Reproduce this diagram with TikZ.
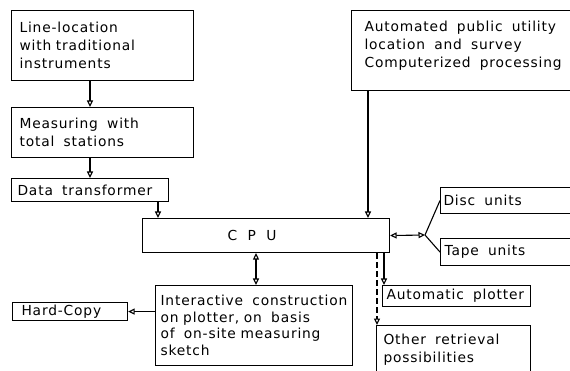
\documentclass[tikz,border=0pt]{standalone}
\usepackage{fontspec}
\setmainfont{DejaVu Sans}[LetterSpace=6]
\usetikzlibrary{arrows.meta}
\tikzset{
  box/.style={draw, line width=1.1pt, inner ysep=1pt, align=left, anchor=north west},
  tip/.tip={Triangle[open,length=6.5pt,width=6pt,line width=1.1pt]},
  arr/.style={-tip, line width=1.1pt},
  darr/.style={tip-tip, line width=1.1pt},
  link/.style={line width=1.1pt},
}
\begin{document}
\begin{tikzpicture}[x=1pt,y=-1pt,font=\fontsize{13.8}{18}\selectfont]
\useasboundingbox (0,0) rectangle (570,371);
\clip (0,0) rectangle (570,371);
% boxes
\node[box, inner xsep=8pt, text width=166pt, minimum height=70pt] (b1) at (11,10)
  {Line-location\\with traditional\\instruments};
\node[box, inner xsep=8pt, text width=166pt, minimum height=50pt] (b2) at (11,107)
  {Measuring~ with\\total~ stations};
\node[box, inner xsep=6pt, text width=145pt, minimum height=23pt] (b3) at (11,178)
  {Data~ transformer};
\node[box, inner xsep=13pt, text width=214pt, minimum height=80pt, text depth=49pt] (auto) at (351,10)
  {Automated~ public~ utility\\location~ and~ survey\\Computerized~ processing};
\node[box, inner xsep=3pt, text width=144pt, minimum height=26pt] (disc) at (440,187)
  {Disc~ units};
\node[box, inner xsep=4pt, text width=142pt, minimum height=27pt] (tape) at (440,238)
  {Tape~ units};
\node[box, align=center, minimum width=247pt, minimum height=34pt, anchor=north west] (cpu) at (142,218)
  {C~ P~ U\hspace{28pt}};
\node[box, inner xsep=5pt, text width=187pt, minimum height=80pt, font=\fontsize{13.8}{16.5}\selectfont] (inter) at (155,285)
  {Interactive~ construction\\on plotter, on~ basis\\of~ on-site measuring\\sketch};
\node[box, inner xsep=9pt, text width=97pt, minimum height=18pt] (hard) at (12,302)
  {Hard-Copy};
\node[box, inner xsep=4pt, text width=140pt, minimum height=21pt] (plot) at (382,285)
  {Automatic~ plotter};
\node[box, inner xsep=7pt, text width=140pt, minimum height=49pt] (other) at (376,325)
  {Other~ retrieval\\possibilities};
% connectors
\draw[arr] (b1.south -| 90,0) -- (b2.north -| 90,0);
\draw[arr] (b2.south -| 90,0) -- (b3.north -| 90,0);
\draw[arr] (b3.south -| 158,0) -- (cpu.north -| 158,0);
\draw[arr] (auto.south -| 368,0) -- (cpu.north -| 368,0);
\coordinate (fork) at (425,235);
\draw[darr] (cpu.east) -- (fork);
\draw[link] (fork) -- (disc.west);
\draw[link] (fork) -- (tape.west);
\draw[darr] (cpu.south -| 256,0) -- (inter.north -| 256,0);
\draw[arr] (inter.west |- hard.east) -- (hard.east);
\draw[arr] (cpu.south -| 384,0) -- (plot.north -| 384,0);
\draw[arr, dashed, dash pattern=on 6pt off 3pt] (cpu.south -| 377,0) -- (other.north -| 377,0);
\end{tikzpicture}
\end{document}
